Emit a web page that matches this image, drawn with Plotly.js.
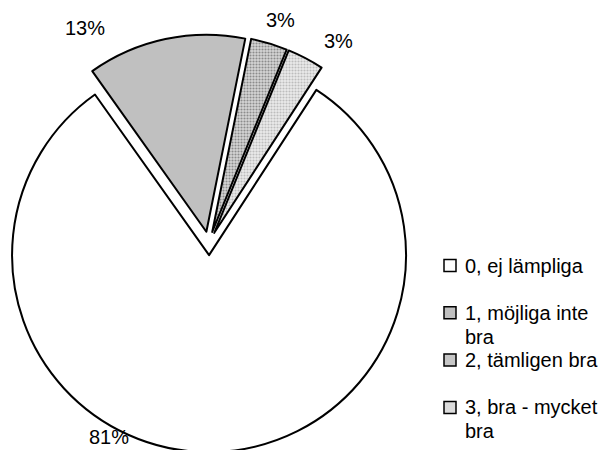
<!DOCTYPE html>
<html>
<head>
<meta charset="utf-8">
<script src="https://cdn.plot.ly/plotly-3.0.1.min.js"></script>
<style>
html,body{margin:0;padding:0;background:#fff;overflow:hidden;}
#chart{width:611px;height:460px;}
</style>
</head>
<body>
<div id="chart"></div>
<script>
// ---- data ----
const labels = ['0, ej lämpliga', '1, möjliga inte<br>bra', '2, tämligen bra', '3, bra - mycket<br>bra'];
const values = [81, 13, 3, 3];
const sliceColors = ['#ffffff', '#c0c0c0', '#d6d6d6', '#ebebeb'];
const legendColors = ['#ffffff', '#c0c0c0', '#c6c6c6', '#dcdcdc'];

// ---- layout constants ----
const W = 611, H = 460;
const FONT = 'Arial, "Liberation Sans", sans-serif';
const cx = 208.8, cy = 243.3, r = 197, pull = 0.06;
const pctPos = [[108.5, 437], [84.5, 28], [280, 20], [338, 41]];
const legX = 444, legY0 = 265.5, legStep = 47.3, legLine = 24, sq = 12;

const total = values.reduce((a, b) => a + b, 0);
const pctText = values.map(v => Math.round(v / total * 100) + '%');

const box = 2 * r * (1 + pull);
const trace = {
  type: 'pie',
  labels: labels,
  values: values,
  sort: false,
  direction: 'clockwise',
  rotation: 33,
  pull: pull,
  textinfo: 'none',
  hoverinfo: 'label+percent',
  showlegend: false,
  marker: {
    colors: sliceColors,
    line: {color: '#000000', width: 2},
    pattern: {
      shape: ['', '', '.', '.'],
      fgcolor: ['#000000', '#000000', '#8c8c8c', '#bdbdbd'],
      bgcolor: sliceColors,
      size: 3,
      solidity: 0.4,
      fillmode: 'replace'
    }
  },
  domain: {
    x: [(cx - box / 2) / W, (cx + box / 2) / W],
    y: [1 - (cy + box / 2) / H, 1 - (cy - box / 2) / H]
  }
};

const annotations = [];
const shapes = [];
pctText.forEach((t, i) => {
  annotations.push({
    xref: 'paper', yref: 'paper',
    x: pctPos[i][0] / W, y: 1 - pctPos[i][1] / H,
    xanchor: 'center', yanchor: 'middle',
    text: t, showarrow: false,
    font: {family: FONT, size: 20, color: '#000000'}
  });
});
labels.forEach((lab, i) => {
  const yc = legY0 + legStep * i;
  shapes.push({
    type: 'rect', xref: 'paper', yref: 'paper',
    x0: legX / W, x1: (legX + sq) / W,
    y0: 1 - (yc - sq / 2) / H, y1: 1 - (yc + sq / 2) / H,
    fillcolor: legendColors[i],
    line: {color: '#000000', width: 1.5}
  });
  lab.split('<br>').forEach((line, k) => {
    annotations.push({
      xref: 'paper', yref: 'paper',
      x: (legX + sq + 7) / W, y: 1 - (yc + legLine * k) / H,
      xanchor: 'left', yanchor: 'middle',
      text: line, showarrow: false,
      font: {family: FONT, size: 20, color: '#000000'}
    });
  });
});

const layout = {
  width: W, height: H,
  margin: {l: 0, r: 0, t: 0, b: 0, pad: 0},
  paper_bgcolor: '#ffffff',
  plot_bgcolor: '#ffffff',
  showlegend: false,
  font: {family: FONT, size: 20, color: '#000000'},
  annotations: annotations,
  shapes: shapes
};

Plotly.newPlot('chart', [trace], layout, {staticPlot: true, displayModeBar: false});
</script>
</body>
</html>
